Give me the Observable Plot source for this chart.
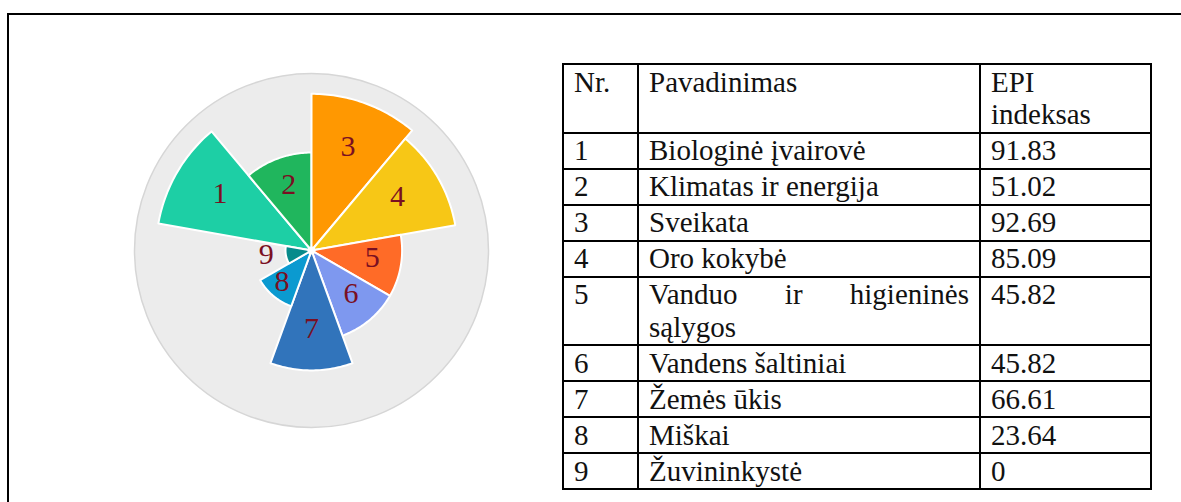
<!DOCTYPE html>
<html><head><meta charset="utf-8">
<script src="https://cdn.jsdelivr.net/npm/d3@7"></script>
<script src="https://cdn.jsdelivr.net/npm/@observablehq/plot@0.6"></script>
<style>
body{margin:0;background:#fff;width:1181px;height:502px;overflow:hidden;position:relative;font-family:"Liberation Serif","Tinos","Times New Roman","Times","DejaVu Serif",serif;}
#frame{position:absolute;left:7px;top:13px;width:1300px;height:600px;border:2px solid #000;}
#chart{position:absolute;left:121px;top:60px;}
table{position:absolute;left:562px;top:63px;border-collapse:collapse;table-layout:fixed;width:588px;font-size:29px;line-height:32.5px;color:#111;font-family:inherit;}
td{border:2px solid #000;vertical-align:top;padding:0.5px 10px 1px 10px;}
td.name{text-align:justify;}
</style></head><body>
<div id="frame"></div><div id="chart"></div><table id="tbl"><colgroup><col style="width:75px"><col style="width:342px"><col style="width:171px"></colgroup><tbody></tbody></table>
<script>
// ---- data ----
const cats = ["1","2","3","4","5","6","7","8","9"];
const names = ["Biologinė įvairovė","Klimatas ir energija","Sveikata","Oro kokybė","Vanduo ir higieninės sąlygos","Vandens šaltiniai","Žemės ūkis","Miškai","Žuvininkystė"];
const epi = [91.83, 51.02, 92.69, 85.09, 45.82, 45.82, 66.61, 23.64, 0];
const colors = ["#1dcfa5","#20b65d","#ff9801","#f7c716","#ff6b27","#7e98ef","#3174bb","#0b9ad0","#078b8b"];
const headers = ["Nr.","Pavadinimas","EPI<br>indeksas"];

const SERIF = "'Liberation Serif', Tinos, 'Times New Roman', Times, 'DejaVu Serif', serif";

// ---- polar rose chart ----
const R = d3.scaleLinear().domain([0, 100]).range([26, 167]);
const step = 360 / cats.length;
const start0 = -2 * step; // sector "3" begins at north
const poly = [];
const labels = [];
cats.forEach((c, i) => {
  const a0 = start0 + i * step, a1 = a0 + step, r = R(epi[i]);
  poly.push({cat: c, x: 0, y: 0});
  for (let a = a0; a <= a1 + 1e-9; a += 1) {
    const t = a * Math.PI / 180;
    poly.push({cat: c, x: r * Math.sin(t), y: r * Math.cos(t)});
  }
  const tm = (a0 + step / 2) * Math.PI / 180, lr = Math.max(0.68 * r, 46);
  labels.push({cat: c, x: lr * Math.sin(tm), y: lr * Math.cos(tm)});
});

const chart = Plot.plot({
  width: 380, height: 380, margin: 0,
  style: {background: "transparent", overflow: "visible"},
  x: {domain: [-190, 190], axis: null},
  y: {domain: [-190, 190], axis: null},
  color: {domain: cats, range: colors},
  marks: [
    Plot.dot([0], {x: () => 0, y: () => 0, r: 177, fill: "#ececec", stroke: "#d6d6d6", strokeWidth: 1.5}),
    Plot.line(poly, {x: "x", y: "y", z: "cat", fill: "cat", stroke: "white", strokeWidth: 2, curve: "linear-closed"}),
    Plot.dot([0], {x: () => 0, y: () => 0, r: 4, fill: "white"}),
    Plot.text(labels, {x: "x", y: "y", text: "cat", dy: -4, fill: "#7a0f22", fontSize: 30, fontFamily: SERIF})
  ]
});
document.getElementById("chart").appendChild(chart);

// ---- table ----
const tb = d3.select("#tbl tbody");
const hr = tb.append("tr");
headers.forEach(h => hr.append("td").html(h));
cats.forEach((c, i) => {
  const tr = tb.append("tr");
  tr.append("td").text(c);
  tr.append("td").attr("class", "name").text(names[i]);
  tr.append("td").text(String(epi[i]));
});
</script></body></html>
